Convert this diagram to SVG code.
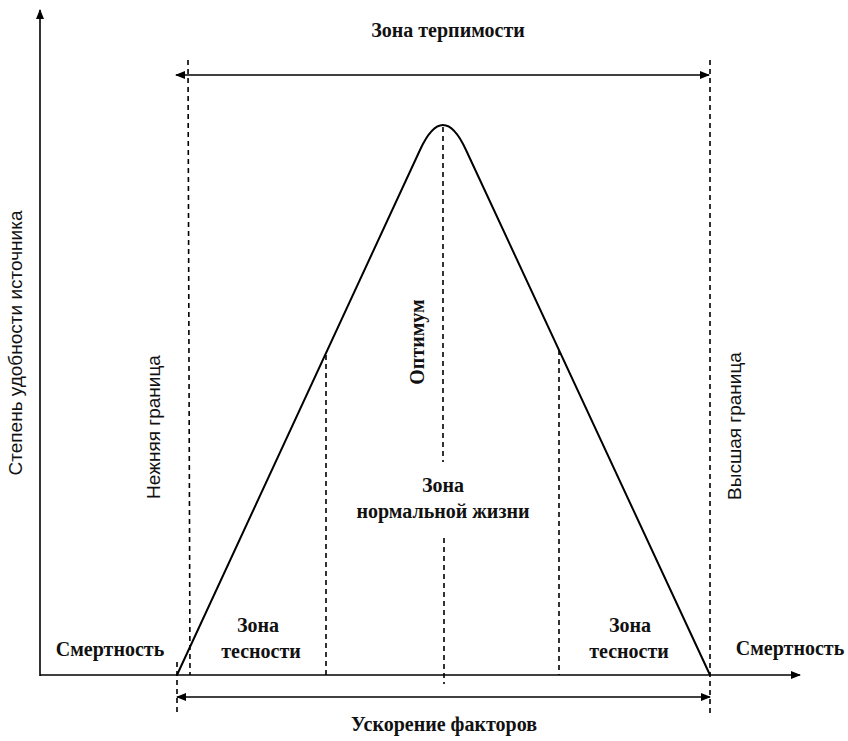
<svg xmlns="http://www.w3.org/2000/svg" width="848" height="741" viewBox="0 0 848 741">
<defs>
<marker id="ah" viewBox="0 0 10 10" refX="9" refY="5" markerWidth="14" markerHeight="10" markerUnits="userSpaceOnUse" orient="auto-start-reverse">
<path d="M0,1 L10,5 L0,9 z" fill="#000"/>
</marker>
<style>
.ax{stroke:#000;stroke-width:1.6;fill:none}
.dash{stroke:#000;stroke-width:1.6;fill:none;stroke-dasharray:5 4}
.curve{stroke:#000;stroke-width:2;fill:none}
.serif{font-family:"Liberation Serif","Times New Roman",serif;font-size:20px;font-weight:bold;fill:#111}
.sans{font-family:"Liberation Sans",Arial,sans-serif;font-size:19px;fill:#111}
</style>
</defs>
<rect width="848" height="741" fill="#fff"/>
<g id="connectors">
<line class="ax" x1="40" y1="676" x2="40" y2="10" marker-end="url(#ah)"/>
<line class="ax" x1="40" y1="675" x2="800" y2="675" marker-end="url(#ah)"/>
<line class="ax" x1="176" y1="75" x2="709" y2="75" marker-start="url(#ah)" marker-end="url(#ah)"/>
<line class="ax" x1="177" y1="697" x2="710" y2="697" marker-start="url(#ah)" marker-end="url(#ah)"/>
<line class="dash" x1="188" y1="60" x2="190" y2="675"/>
<line class="dash" x1="177" y1="662" x2="177" y2="713"/>
<line class="dash" x1="710" y1="60" x2="710" y2="713"/>
<line class="dash" x1="326" y1="355" x2="326" y2="675"/>
<line class="dash" x1="559" y1="350" x2="559" y2="675"/>
<line class="dash" x1="443" y1="127" x2="443" y2="462"/>
<line class="dash" x1="444" y1="538" x2="444" y2="684"/>
<path class="curve" d="M177,675 L420,150 Q443,100 466,150 L710,675"/>
</g>
<g id="title"><text class="serif" x="448" y="37" text-anchor="middle">Зона терпимости</text></g>
<g id="y-label"><text class="sans" transform="translate(22,343) rotate(-90)" text-anchor="middle" font-size="21">Степень удобности источника</text></g>
<g id="lower-bound"><text class="sans" transform="translate(160,427) rotate(-90)" text-anchor="middle">Нежняя граница</text></g>
<g id="upper-bound"><text class="sans" transform="translate(741,426) rotate(-90)" text-anchor="middle">Высшая граница</text></g>
<g id="optimum"><text class="serif" transform="translate(424,342) rotate(-90)" text-anchor="middle" font-size="19">Оптимум</text></g>
<g id="normal-zone"><text class="serif" x="443" y="492" text-anchor="middle">Зона</text><text class="serif" x="443" y="518" text-anchor="middle">нормальной жизни</text></g>
<g id="left-crowd"><text class="serif" x="258" y="632" text-anchor="middle">Зона</text><text class="serif" x="261" y="658" text-anchor="middle">тесности</text></g>
<g id="right-crowd"><text class="serif" x="630" y="632" text-anchor="middle">Зона</text><text class="serif" x="629" y="658" text-anchor="middle">тесности</text></g>
<g id="left-death"><text class="serif" x="110" y="656" text-anchor="middle">Смертность</text></g>
<g id="right-death"><text class="serif" x="790" y="655" text-anchor="middle">Смертность</text></g>
<g id="x-label"><text class="serif" x="444" y="731" text-anchor="middle">Ускорение факторов</text></g>
</svg>
